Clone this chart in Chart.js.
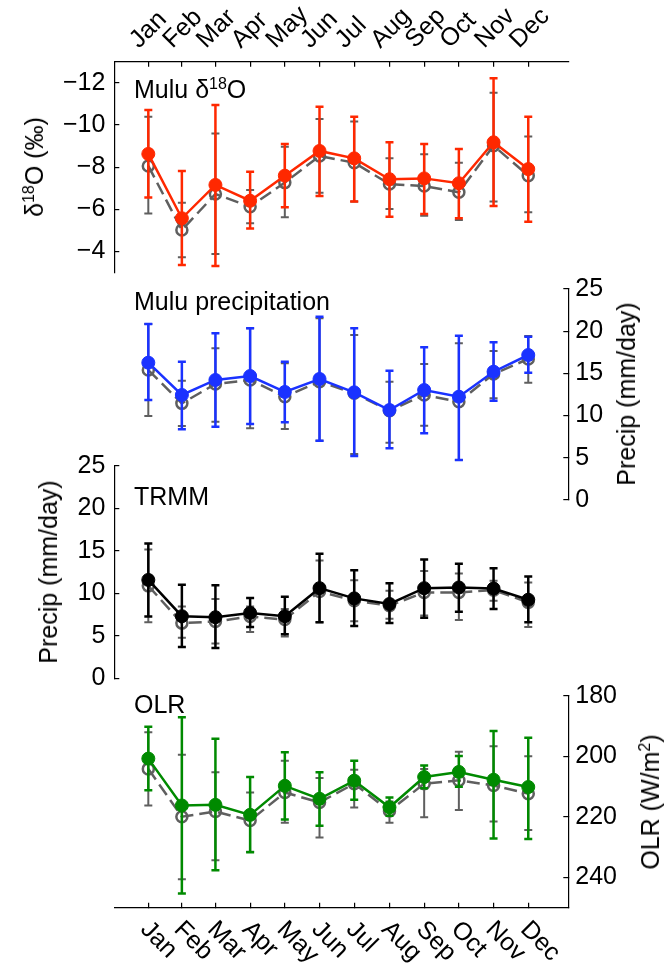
<!DOCTYPE html>
<html>
<head>
<meta charset="utf-8">
<script src="https://cdn.jsdelivr.net/npm/chart.js@4.4.1/dist/chart.umd.min.js"></script>
<style>
  html, body { margin: 0; padding: 0; background: #fff; }
  #wrap { position: relative; width: 665px; height: 964px; overflow: hidden;
          font-family: 'Liberation Sans', Arial, Helvetica, sans-serif; color: #000; }
  #wrap canvas { position: absolute; left: 0; top: 0; }
  .ptitle { position: absolute; left: 134px; font-size: 25px; line-height: 25px; white-space: nowrap; }
  .ptitle sup, .ytitle sup { font-size: 16px; vertical-align: 9px; line-height: 0; }
  .ytitle { position: absolute; font-size: 25px; line-height: 30px; white-space: nowrap;
            transform: translate(-50%, -50%) rotate(-90deg); }
</style>
</head>
<body>
<div id="wrap">
  <canvas id="c1" width="665" height="964"></canvas>
  <canvas id="c2" width="665" height="964"></canvas>
  <canvas id="c3" width="665" height="964"></canvas>
  <canvas id="c4" width="665" height="964"></canvas>

  <div class="ptitle" style="top:77px">Mulu δ<sup>18</sup>O</div>
  <div class="ptitle" style="top:289px">Mulu precipitation</div>
  <div class="ptitle" style="top:484px">TRMM</div>
  <div class="ptitle" style="top:692px">OLR</div>

  <div class="ytitle" style="left:34px; top:167px">δ<sup>18</sup>O (‰)</div>
  <div class="ytitle" style="left:626px; top:394px">Precip (mm/day)</div>
  <div class="ytitle" style="left:48px; top:572px">Precip (mm/day)</div>
  <div class="ytitle" style="left:650px; top:802px">OLR (W/m<sup>2</sup>)</div>
</div>

<script>
const months = ['Jan', 'Feb', 'Mar', 'Apr', 'May', 'Jun', 'Jul', 'Aug', 'Sep', 'Oct', 'Nov', 'Dec'];
// mid-month day of year (ticks are not evenly spaced in the original)
const monthMid = [15.5, 45, 74.5, 105, 135.5, 166, 196.5, 227.5, 258, 288.5, 319, 349.5];

// Mulu d18O
const d18oMean = [-8.63, -5.58, -7.16, -6.41, -7.6, -8.77, -8.42, -7.43, -7.47, -7.24, -9.18, -7.91];
const d18oTop  = [-10.71, -7.82, -10.95, -7.79, -9.1, -10.87, -10.39, -9.18, -9.1, -8.86, -12.21, -10.39];
const d18oBot  = [-6.56, -3.37, -3.32, -5.1, -6.1, -6.64, -6.37, -5.65, -5.78, -5.58, -6.16, -5.42];
const d18oAltMean = [-8.06, -5.02, -6.73, -6.13, -7.27, -8.53, -8.21, -7.2, -7.11, -6.81, -9.02, -7.6];
const d18oAltTop  = [-10.39, -6.32, -9.6, -6.92, -8.97, -10.28, -10.16, -8.42, -8.61, -8.21, -11.53, -9.45];
const d18oAltBot  = [-5.81, -3.73, -3.89, -5.34, -5.63, -6.79, -6.37, -6.02, -5.7, -5.5, -6.37, -5.86];

// Mulu precipitation
const muluMean = [16.27, 12.44, 14.22, 14.69, 12.8, 14.34, 12.76, 10.66, 13.03, 12.24, 15.2, 17.18];
const muluTop  = [20.85, 16.39, 19.75, 20.34, 16.39, 21.72, 20.34, 15.32, 18.09, 19.47, 18.68, 19.35];
const muluBot  = [11.85, 8.37, 8.69, 9.0, 9.2, 7.03, 5.21, 6.12, 7.9, 4.74, 11.77, 15.09];
const muluAltMean = [15.4, 11.45, 13.74, 14.22, 12.24, 14.02, 12.64, 10.58, 12.44, 11.65, 14.93, 16.71];
const muluAltTop  = [20.85, 14.14, 17.97, 20.34, 16.19, 21.52, 19.55, 14.02, 16.11, 18.56, 17.65, 19.43];
const muluAltBot  = [9.95, 8.77, 9.28, 8.49, 8.41, 7.03, 5.45, 6.79, 8.8, 4.74, 12.05, 13.9];

// TRMM
const trmmMean = [11.57, 7.3, 7.18, 7.69, 7.3, 10.6, 9.4, 8.74, 10.6, 10.68, 10.56, 9.24];
const trmmTop  = [15.84, 10.99, 10.95, 9.44, 9.59, 14.64, 12.7, 11.18, 13.98, 13.48, 12.93, 11.96];
const trmmBot  = [7.26, 3.69, 3.57, 6.02, 5.17, 6.6, 6.14, 6.49, 7.11, 7.84, 8.16, 6.6];
const trmmAltMean = [10.87, 6.49, 6.68, 7.26, 6.91, 10.21, 9.13, 8.54, 10.1, 10.1, 10.37, 8.93];
const trmmAltTop  = [15.15, 8.43, 9.32, 8.43, 8.16, 13.86, 11.53, 10.29, 12.62, 12.31, 11.46, 11.26];
const trmmAltBot  = [6.6, 4.78, 4.08, 5.44, 4.93, 6.6, 6.72, 6.99, 7.38, 6.87, 9.13, 6.02];

// OLR
const olrMean = [200.7, 216.2, 216, 219.3, 209.7, 214, 208, 216.8, 206.8, 205.1, 207.7, 210.1];
const olrTop  = [190.2, 187, 194.1, 206.8, 198.6, 205.2, 201.4, 213.6, 203, 199.8, 191.6, 193.8];
const olrBot  = [211.2, 245.3, 237.6, 231.7, 220.8, 222.9, 214.3, 219.6, 210.5, 210, 227.1, 227.3];
const olrAltMean = [204.1, 219.9, 218.2, 221.2, 211.9, 215.2, 209, 218, 209, 207.9, 209.6, 212.3];
const olrAltTop  = [192, 199.4, 205.2, 211.9, 201.4, 207.1, 204.4, 214.9, 204.1, 198.4, 196.6, 199.9];
const olrAltBot  = [216.2, 240.6, 234.3, 231.5, 221.9, 226.8, 216.9, 221.9, 220.1, 217.7, 221.5, 224.3];

// tick labels
const d18oTicks = [-12, -10, -8, -6, -4];
const precipTicks = [0, 5, 10, 15, 20, 25];
const olrTicks = [180, 200, 220, 240];

const W = 665, H = 964;
const plotLeft = 114.3, plotRight = 568.3;
const FONT = "'Liberation Sans', Arial, Helvetica, sans-serif";
const GRAY = '#5f5f5f';

Chart.defaults.font.family = FONT;
Chart.defaults.font.size = 25;
Chart.defaults.color = '#000';

const pts = arr => arr.map((v, i) => ({ x: monthMid[i], y: v }));

// error bars drawn under each dataset's line
const errorBars = {
  id: 'errorBars',
  beforeDatasetDraw(chart, args) {
    const ds = chart.data.datasets[args.index];
    if (!ds.errA) return;
    const ctx = chart.ctx;
    const ys = chart.scales.y;
    const cap = 4;
    ctx.save();
    ctx.strokeStyle = ds.errColor;
    ctx.lineWidth = ds.errWidth;
    args.meta.data.forEach((p, i) => {
      const y1 = ys.getPixelForValue(ds.errA[i]);
      const y2 = ys.getPixelForValue(ds.errB[i]);
      ctx.beginPath();
      ctx.moveTo(p.x, y1); ctx.lineTo(p.x, y2);
      ctx.moveTo(p.x - cap, y1); ctx.lineTo(p.x + cap, y1);
      ctx.moveTo(p.x - cap, y2); ctx.lineTo(p.x + cap, y2);
      ctx.stroke();
    });
    ctx.restore();
  }
};

// month labels under the bottom axis, rotated down to the right
const bottomMonths = {
  id: 'bottomMonths',
  afterDraw(chart) {
    if (!chart.options.plugins.bottomMonths.show) return;
    const xs = chart.scales.x;
    const ctx = chart.ctx;
    ctx.save();
    ctx.font = '25px ' + FONT;
    ctx.fillStyle = '#000';
    ctx.textAlign = 'left';
    ctx.textBaseline = 'middle';
    xs.ticks.forEach((t, i) => {
      const px = xs.getPixelForValue(t.value);
      ctx.save();
      ctx.translate(px - 4, xs.top + 18);
      ctx.rotate(Math.PI / 4);
      ctx.fillText(months[i], 0, 0);
      ctx.restore();
    });
    ctx.restore();
  }
};

function zeroPad(s) {
  s.paddingLeft = 0; s.paddingRight = 0; s.paddingTop = 0; s.paddingBottom = 0;
}

function yAxis(pos, min, max, tickVals, reverse) {
  return {
    type: 'linear', position: pos, min: min, max: max, reverse: reverse,
    afterBuildTicks: s => { s.ticks = tickVals.map(v => ({ value: v })); },
    afterFit: s => { s.width = pos === 'left' ? plotLeft : W - plotRight; zeroPad(s); },
    ticks: {
      padding: pos === 'left' ? 14 : 12,
      autoSkip: false,
      callback: v => v < 0 ? '\u2212' + Math.abs(v) : String(v)
    },
    grid: { drawOnChartArea: false, drawTicks: true, tickLength: -5, color: '#000', lineWidth: 1.2 },
    border: { display: true, color: '#000', width: 1.2 }
  };
}

function xAxis(pos, height, showLabels) {
  return {
    type: 'linear', position: pos, min: -14.4, max: 384.7,
    display: height > 0,
    afterBuildTicks: s => { s.ticks = monthMid.map(v => ({ value: v })); },
    afterFit: s => { s.height = height; zeroPad(s); },
    ticks: {
      display: showLabels, autoSkip: false, minRotation: 45, maxRotation: 45,
      padding: 12, labelOffset: 7,
      callback: (v, i) => months[i]
    },
    grid: { drawOnChartArea: false, drawTicks: true, tickLength: -5, color: '#000', lineWidth: 1.2 },
    border: { display: true, color: '#000', width: 1.2 }
  };
}

function series(mean, top, bot, color, alt) {
  return {
    data: pts(mean),
    errA: top, errB: bot,
    errColor: color, errWidth: alt ? 2 : 2.5,
    borderColor: color,
    borderWidth: 2.5,
    borderDash: alt ? [13, 6] : [],
    pointRadius: alt ? 5.5 : 6.5,
    pointBorderWidth: alt ? 2.5 : 1,
    pointBorderColor: color,
    pointBackgroundColor: alt ? 'rgba(0,0,0,0)' : color,
    tension: 0,
    clip: false
  };
}

function makePanel(id, cfg) {
  new Chart(document.getElementById(id), {
    type: 'line',
    data: { datasets: [
      series(cfg.mean, cfg.top, cfg.bot, cfg.color, false),
      series(cfg.altMean, cfg.altTop, cfg.altBot, GRAY, true)
    ] },
    options: {
      responsive: false,
      devicePixelRatio: 1,
      animation: false,
      events: [],
      layout: { padding: cfg.padding, autoPadding: false },
      scales: { x: cfg.x, y: cfg.y },
      plugins: {
        legend: { display: false },
        tooltip: { enabled: false },
        bottomMonths: { show: !!cfg.bottomLabels }
      }
    },
    plugins: [errorBars, bottomMonths]
  });
}

makePanel('c1', {
  mean: d18oMean, top: d18oTop, bot: d18oBot,
  altMean: d18oAltMean, altTop: d18oAltTop, altBot: d18oAltBot,
  color: '#ff2800',
  padding: { left: 0, right: W - plotRight, top: 0, bottom: H - 272.7 },
  x: xAxis('top', 61.7, true),
  y: yAxis('left', -13, -3, d18oTicks, true)
});

makePanel('c2', {
  mean: muluMean, top: muluTop, bot: muluBot,
  altMean: muluAltMean, altTop: muluAltTop, altBot: muluAltBot,
  color: '#1a32ff',
  padding: { left: plotLeft, right: 0, top: 289, bottom: H - 500 },
  x: xAxis('bottom', 0, false),
  y: yAxis('right', 0, 25, precipTicks, false)
});

makePanel('c3', {
  mean: trmmMean, top: trmmTop, bot: trmmBot,
  altMean: trmmAltMean, altTop: trmmAltTop, altBot: trmmAltBot,
  color: '#000000',
  padding: { left: 0, right: W - plotRight, top: 465.7, bottom: H - 678.3 },
  x: xAxis('bottom', 0, false),
  y: yAxis('left', 0, 25, precipTicks, false)
});

makePanel('c4', {
  mean: olrMean, top: olrTop, bot: olrBot,
  altMean: olrAltMean, altTop: olrAltTop, altBot: olrAltBot,
  color: '#008a00',
  padding: { left: plotLeft, right: 0, top: 696, bottom: 0 },
  x: xAxis('bottom', H - 907.7, false),
  y: yAxis('right', 180, 250, olrTicks, true),
  bottomLabels: true
});
</script>
</body>
</html>
